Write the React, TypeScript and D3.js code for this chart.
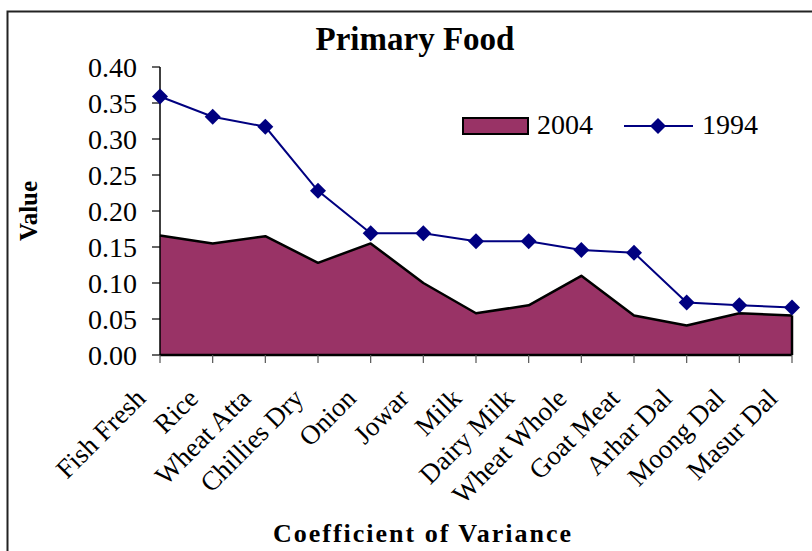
import * as d3 from 'd3';

const categories = [
  'Fish Fresh', 'Rice', 'Wheat Atta', 'Chillies Dry', 'Onion', 'Jowar', 'Milk',
  'Dairy Milk', 'Wheat Whole', 'Goat Meat', 'Arhar Dal', 'Moong Dal', 'Masur Dal',
];
const values2004 = [0.166, 0.155, 0.165, 0.128, 0.155, 0.100, 0.058, 0.069, 0.110, 0.055, 0.041, 0.058, 0.055];
const values1994 = [0.359, 0.331, 0.317, 0.228, 0.169, 0.169, 0.158, 0.158, 0.146, 0.142, 0.073, 0.069, 0.066];
const yTicks = [0, 0.05, 0.1, 0.15, 0.2, 0.25, 0.3, 0.35, 0.4];

const W = 812;
const H = 551;
const left = 160;
const right = 792;
const top = 67;
const bottom = 355;
const serif = '"Liberation Serif", "Times New Roman", serif';
const AREA = '#993366';
const NAVY = '#000080';

export default function App() {
  const x = d3.scalePoint<string>().domain(categories).range([left, right]);
  const y = d3.scaleLinear().domain([0, 0.4]).range([bottom, top]);

  const area = d3.area<number>()
    .x((_, i) => x(categories[i])!)
    .y0(y(0))
    .y1(d => y(d));
  const topLine = d3.line<number>()
    .x((_, i) => x(categories[i])!)
    .y(d => y(d));
  const line94 = d3.line<number>()
    .x((_, i) => x(categories[i])!)
    .y(d => y(d));

  const diamond = (cx: number, cy: number, r = 8) =>
    `M${cx},${cy - r}L${cx + r},${cy}L${cx},${cy + r}L${cx - r},${cy}Z`;

  return (
    <div style={{ position: 'fixed', left: 0, top: 0, width: W, height: H, background: '#fff' }}>
      <svg width={W} height={H} style={{ display: 'block', fontFamily: serif }}>
        <rect x={7.5} y={11.5} width={W + 20} height={H + 20} fill="#fff" stroke="#222" strokeWidth={2} />

        <text x={415} y={50} textAnchor="middle" fontSize={33} fontWeight="bold" fill="#000">Primary Food</text>

        {/* 2004 area */}
        <path d={area(values2004)!} fill={AREA} />
        <path d={topLine(values2004)!} fill="none" stroke="#000" strokeWidth={2.5} strokeLinejoin="round" />
        <line x1={right} x2={right} y1={y(values2004[values2004.length - 1])} y2={bottom} stroke="#000" strokeWidth={2.5} />

        {/* axes */}
        <line x1={left} x2={left} y1={top} y2={bottom} stroke="#000" strokeWidth={1.5} />
        <line x1={left} x2={right} y1={bottom} y2={bottom} stroke="#000" strokeWidth={2.5} />
        {yTicks.map(t => (
          <g key={t}>
            <line x1={left - 8} x2={left} y1={y(t)} y2={y(t)} stroke="#000" strokeWidth={1.2} />
            <text x={137} y={y(t)} dy="0.35em" textAnchor="end" fontSize={28} fill="#000">{t.toFixed(2)}</text>
          </g>
        ))}
        {categories.map(c => (
          <g key={c}>
            <line x1={x(c)} x2={x(c)} y1={bottom} y2={bottom + 8} stroke="#555" strokeWidth={1.2} />
            <text
              transform={`translate(${x(c)! - 13},400) rotate(-45)`}
              textAnchor="end"
              fontSize={27}
              fill="#000"
            >{c}</text>
          </g>
        ))}

        {/* 1994 line */}
        <path d={line94(values1994)!} fill="none" stroke={NAVY} strokeWidth={2} />
        {values1994.map((v, i) => (
          <path key={i} d={diamond(x(categories[i])!, y(v))} fill={NAVY} />
        ))}

        {/* axis titles */}
        <text transform="translate(37,211) rotate(-90)" textAnchor="middle" fontSize={25} fontWeight="bold" fill="#000">Value</text>
        <text x={423} y={542} textAnchor="middle" fontSize={26} fontWeight="bold" letterSpacing={2} fill="#000">Coefficient of Variance</text>

        {/* legend */}
        <rect x={463} y={118} width={65} height={16} fill={AREA} stroke="#000" strokeWidth={2} />
        <text x={537} y={134} fontSize={28} fill="#000">2004</text>
        <line x1={624} x2={693} y1={126} y2={126} stroke={NAVY} strokeWidth={2} />
        <path d={diamond(658, 126)} fill={NAVY} />
        <text x={702} y={134} fontSize={28} fill="#000">1994</text>
      </svg>
    </div>
  );
}
